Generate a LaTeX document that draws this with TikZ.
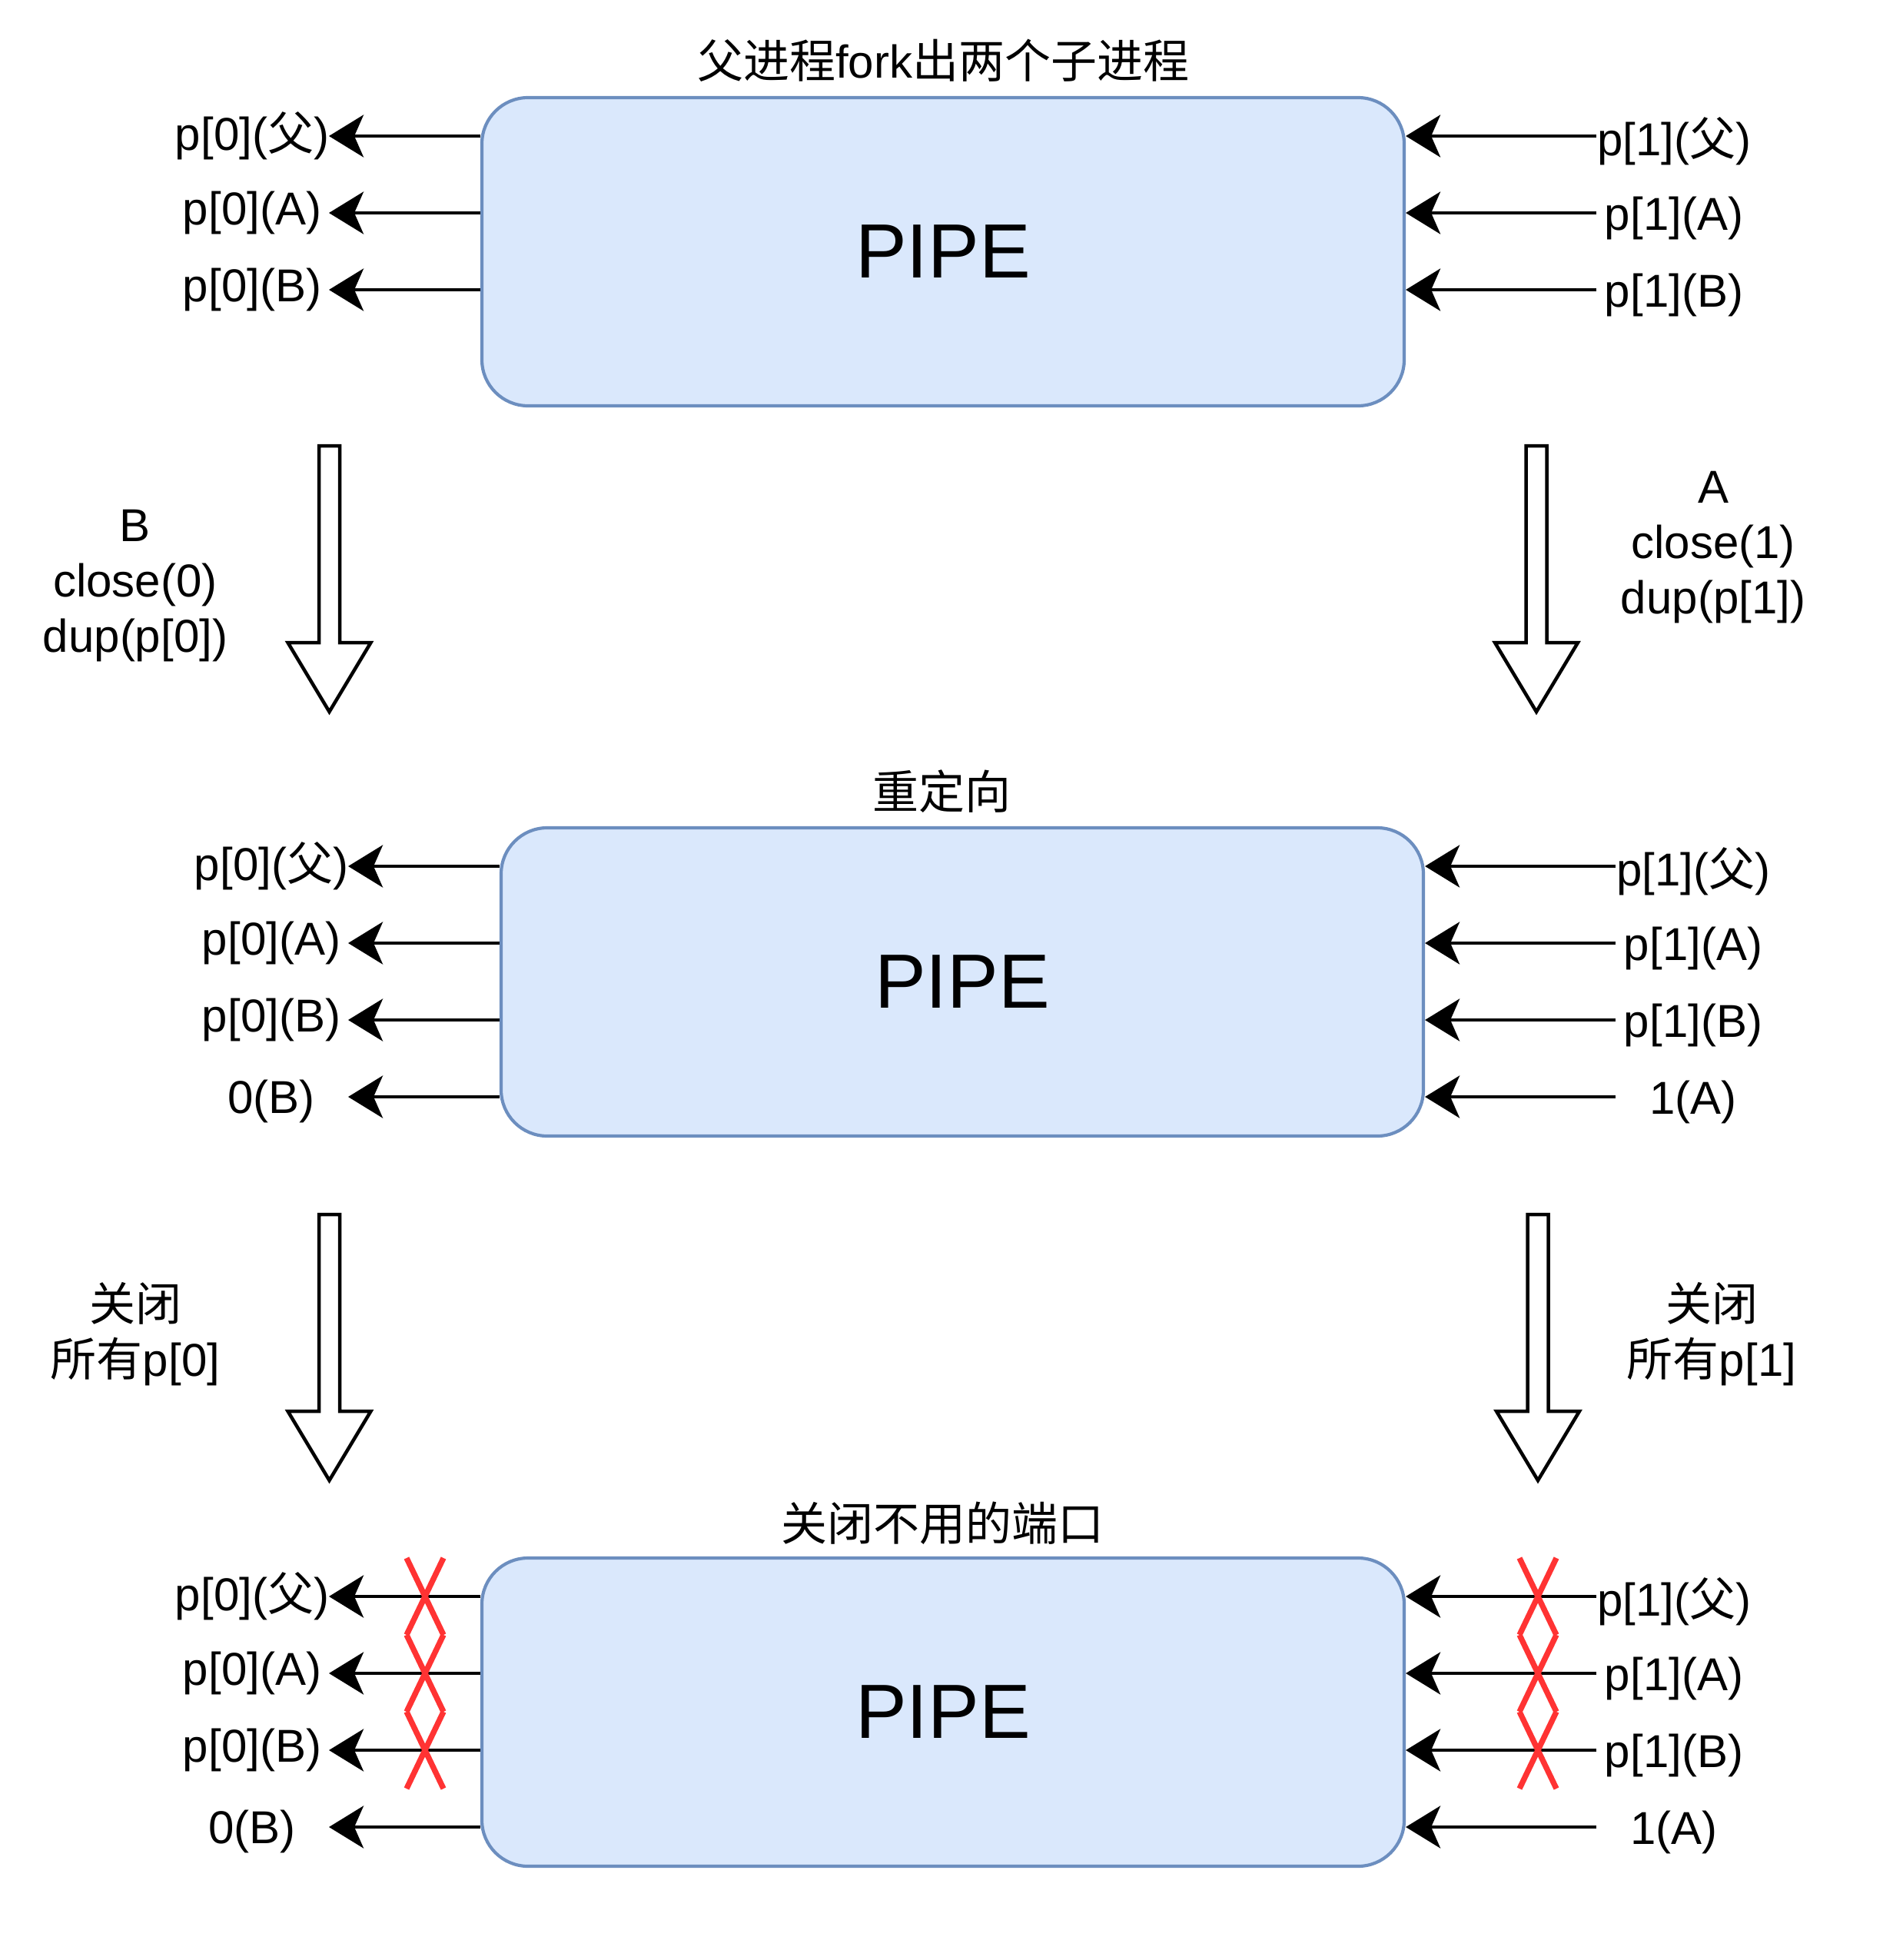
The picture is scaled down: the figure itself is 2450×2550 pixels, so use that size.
\documentclass[tikz,border=0pt]{standalone}
\usepackage{fontspec}
\setmainfont{Liberation Sans}
\newfontfamily\cjk{Noto Sans CJK SC}
\usetikzlibrary{arrows.meta}
\definecolor{boxfill}{HTML}{DAE8FC}
\definecolor{boxline}{HTML}{6C8EBF}
\definecolor{xred}{HTML}{FF3333}
\newcommand\hollowarrow[2]{%
  \draw[bigarrow] (#1-13.5,#2) -- (#1+13.5,#2) -- (#1+13.5,#2+256) -- (#1+54,#2+256)
    -- (#1,#2+346) -- (#1-54,#2+256) -- (#1-13.5,#2+256) -- cycle;}
\newcommand\redcross[2]{%
  \draw[cross] (#1-24,#2-50) -- (#1+24,#2+50);
  \draw[cross] (#1+24,#2-50) -- (#1-24,#2+50);}
\begin{document}
\begin{tikzpicture}[x=0.3pt,y=-0.3pt,
  pipebox/.style={draw=boxline, fill=boxfill, line width=1.25pt, rounded corners=18pt,
    minimum width=360pt, minimum height=120.3pt, inner sep=0pt,
    font=\fontsize{30}{36}\selectfont},
  lbl/.style={inner sep=0pt, font=\fontsize{18}{21.6}\selectfont, align=center},
  conn/.style={line width=1.35pt, -{Stealth[length=13.5pt,width=16.5pt,inset=3.6pt]}},
  bigarrow/.style={draw, line width=1.35pt, fill=white, line join=miter},
  cross/.style={draw=xred, line width=2.2pt}
]
\path[use as bounding box] (0,0) rectangle (2450,2550);

% ---------- boxes ----------
\node[pipebox] (pipeA) at (1227,327.5) {PIPE};
\node[pipebox] (pipeB) at (1252,1277.5) {PIPE};
\node[pipebox] (pipeC) at (1227,2227.5) {PIPE};

% ---------- titles ----------
\node[lbl] (titleA) at (1227,79) {{\cjk 父进程}fork{\cjk 出两个子进程}};
\node[lbl] (titleB) at (1225,1030) {\cjk 重定向};
\node[lbl] (titleC) at (1226,1982) {\cjk 关闭不用的端口};

% ---------- box A ports ----------
\foreach[count=\i] \yy/\lt/\rt in {177/{p[0]({\cjk 父})}/{p[1]({\cjk 父})},
                                  277/{p[0](A)}/{p[1](A)},
                                  377/{p[0](B)}/{p[1](B)}} {
  \coordinate (Al\i) at (428,\yy);
  \node[lbl] (Alt\i) at (328,\yy) {\lt};
  \draw[conn] (pipeA.west |- Al\i) -- (Al\i);
  \coordinate (Ar\i) at (2077,\yy);
  \node[lbl] (Art\i) at (2178,\yy+7) {\rt};
  \draw[conn] (Ar\i) -- (pipeA.east |- Ar\i);
}

% ---------- box B ports ----------
\foreach[count=\i] \yy/\lt/\rt/\dl in {1127/{p[0]({\cjk 父})}/{p[1]({\cjk 父})}/0,
                                  1227/{p[0](A)}/{p[1](A)}/0,
                                  1327/{p[0](B)}/{p[1](B)}/0,
                                  1427/{0(B)}/{1(A)}/6} {
  \coordinate (Bl\i) at (453,\yy);
  \node[lbl] (Blt\i) at (353,\yy+\dl) {\lt};
  \draw[conn] (pipeB.west |- Bl\i) -- (Bl\i);
  \coordinate (Br\i) at (2102,\yy);
  \node[lbl] (Brt\i) at (2203,\yy+7) {\rt};
  \draw[conn] (Br\i) -- (pipeB.east |- Br\i);
}

% ---------- box C ports ----------
\foreach[count=\i] \yy/\lt/\rt/\dl in {2077/{p[0]({\cjk 父})}/{p[1]({\cjk 父})}/0,
                                  2177/{p[0](A)}/{p[1](A)}/0,
                                  2277/{p[0](B)}/{p[1](B)}/0,
                                  2377/{0(B)}/{1(A)}/6} {
  \coordinate (Cl\i) at (428,\yy);
  \node[lbl] (Clt\i) at (328,\yy+\dl) {\lt};
  \draw[conn] (pipeC.west |- Cl\i) -- (Cl\i);
  \coordinate (Cr\i) at (2077,\yy);
  \node[lbl] (Crt\i) at (2178,\yy+7) {\rt};
  \draw[conn] (Cr\i) -- (pipeC.east |- Cr\i);
}

% ---------- red crosses ----------
\foreach \yy in {2077,2177,2277} {
  \redcross{553}{\yy}
  \redcross{2001}{\yy}
}

% ---------- hollow arrows ----------
\hollowarrow{428.5}{580}
\hollowarrow{1999}{580}
\hollowarrow{428.5}{1580}
\hollowarrow{2001}{1580}

% ---------- step texts ----------
\node[lbl] (stepL1) at (176,762) {B\\close(0)\\dup(p[0])};
\node[lbl] (stepR1) at (2229,712) {A\\close(1)\\dup(p[1])};
\node[lbl] (stepL2) at (176,1736) {{\cjk 关闭}\\{\cjk 所有}p[0]};
\node[lbl] (stepR2) at (2227,1736) {{\cjk 关闭}\\{\cjk 所有}p[1]};
\end{tikzpicture}
\end{document}
